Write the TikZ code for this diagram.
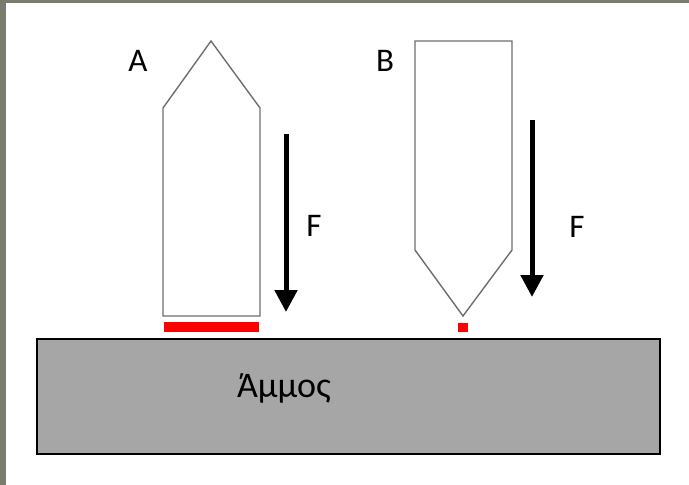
\documentclass[tikz,border=0pt]{standalone}
\usepackage{fontspec}
\setmainfont{Carlito}
\usetikzlibrary{arrows.meta}
\definecolor{framegray}{RGB}{122,124,110}
\definecolor{outline}{RGB}{110,110,110}
\definecolor{sand}{RGB}{166,166,166}
\tikzset{
  body/.style={draw=outline, line width=1.4pt, fill=white, line join=miter},
  contact/.style={fill=red},
  force/.style={line width=5pt, -{Triangle[width=22pt,length=22pt]}},
  lbl/.style={font=\fontsize{33}{35}\selectfont, inner sep=0pt},
  sandlbl/.style={font=\fontsize{36}{38}\selectfont, inner sep=0pt}
}
\begin{document}
\begin{tikzpicture}[x=1pt,y=-1pt]
  \useasboundingbox (0,0) rectangle (689,485);
  % window frame edges
  \fill[framegray] (0,0) rectangle (689,3);
  \fill[framegray] (0,0) rectangle (6,485);

  % sand block
  \node[draw=black, line width=2pt, fill=sand, minimum width=623pt, minimum height=115pt,
        inner sep=0pt, anchor=north west] (sand) at (36,338) {};
  \node[sandlbl] (sandtext) at (284,388) {Άμμος};

  % body A: flat base, pointed top
  \draw[body] (163,316) -- (163,108) -- (211,41) -- (260,108) -- (260,316) -- cycle;
  \fill[contact] (164,322) rectangle (259,332);
  \node[lbl] (labA) at (138,61) {A};
  \coordinate (fAtop) at (286,134);
  \coordinate (fAtip) at (286,312);
  \draw[force] (fAtop) -- (fAtip);
  \node[lbl] (labFA) at (314,226) {F};

  % body B: flat top, pointed base
  \draw[body] (415,41) -- (512,41) -- (512,250) -- (463,316) -- (415,250) -- cycle;
  \fill[contact] (458,323) rectangle (468,332);
  \node[lbl] (labB) at (385,61) {B};
  \coordinate (fBtop) at (532,120);
  \coordinate (fBtip) at (532,297);
  \draw[force] (fBtop) -- (fBtip);
  \node[lbl] (labFB) at (577,227) {F};
\end{tikzpicture}
\end{document}
